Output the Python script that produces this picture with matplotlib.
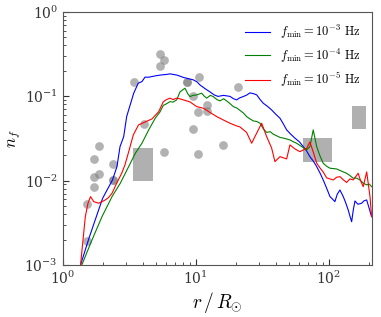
import numpy as np
import matplotlib
matplotlib.use("Agg")
import matplotlib.pyplot as plt
from matplotlib.patches import Rectangle

plt.rcParams['mathtext.fontset'] = 'cm'
plt.rcParams['font.family'] = 'serif'
plt.rcParams['font.serif'] = ['DejaVu Serif']

# ---- data (log10 values) ----
blue_log_r = [0.134, 0.2, 0.3, 0.3744, 0.408, 0.431, 0.4586, 0.481, 0.496, 0.519, 0.534, 0.568,
              0.596, 0.619, 0.645, 0.671, 0.71, 0.7466, 0.78, 0.807, 0.86, 0.907, 0.94, 0.982,
              1.01, 1.032, 1.07, 1.1075, 1.14, 1.168, 1.21, 1.258, 1.285, 1.308, 1.33, 1.358,
              1.385, 1.408, 1.435, 1.459, 1.485, 1.508, 1.54, 1.571, 1.6, 1.634, 1.66, 1.684,
              1.715, 1.747, 1.78, 1.809, 1.835, 1.859, 1.885, 1.910, 1.935, 1.959, 1.985, 2.010,
              2.03, 2.047, 2.065, 2.085, 2.110, 2.13, 2.147, 2.16, 2.173, 2.185, 2.198, 2.22,
              2.248, 2.265, 2.286, 2.305, 2.323]
blue_log_n = [-3.0, -2.67, -2.21, -1.992, -1.834, -1.597, -1.479, -1.2415, -1.162, -1.043, -0.964, -0.8455,
              -0.8265, -0.774, -0.775, -0.767, -0.755, -0.747, -0.742, -0.735, -0.75, -0.777, -0.79, -0.806,
              -0.83, -0.866, -0.91, -0.9487, -0.985, -1.002, -0.99, -1.002, -1.03, -1.0435, -1.02, -1.004,
              -0.985, -0.9605, -0.97, -0.984, -1.04, -1.0826, -1.12, -1.162, -1.21, -1.2605, -1.33, -1.399,
              -1.45, -1.4977, -1.54, -1.597, -1.65, -1.716, -1.77, -1.834, -1.91, -1.992, -2.09, -2.190,
              -2.22, -2.249, -2.16, -2.111, -2.190, -2.27, -2.348, -2.42, -2.487, -2.35, -2.241, -2.28,
              -2.268, -2.24, -2.229, -2.33, -2.427]

green_log_r = [0.145, 0.220, 0.2955, 0.3707, 0.433, 0.496, 0.546, 0.596, 0.6466, 0.696, 0.7316, 0.756,
               0.78, 0.807, 0.83, 0.857, 0.882, 0.9195, 0.94, 0.957, 0.98, 1.0075, 1.045, 1.065, 1.083,
               1.11, 1.132, 1.16, 1.183, 1.21, 1.233, 1.26, 1.283, 1.31, 1.333, 1.36, 1.383, 1.41, 1.433,
               1.46, 1.4835, 1.51, 1.534, 1.56, 1.583, 1.61, 1.634, 1.67, 1.709, 1.735, 1.759, 1.8, 1.835,
               1.859, 1.884, 1.910, 1.935, 1.959, 1.985, 2.010, 2.060, 2.10, 2.135, 2.16, 2.185, 2.21,
               2.235, 2.26, 2.286, 2.305, 2.323]
green_log_n = [-2.994, -2.704, -2.427, -2.190, -2.031, -1.834, -1.676, -1.557, -1.399, -1.2605, -1.186, -1.109,
               -1.09, -1.064, -1.07, -1.0435, -0.9487, -0.905, -0.97, -1.004, -0.99, -0.984, -0.964, -1.0, -1.023,
               -0.99, -1.004, -1.04, -1.0554, -1.03, -1.0554, -1.09, -1.123, -1.14, -1.168, -1.2, -1.2415, -1.27, -1.2925,
               -1.3, -1.320, -1.39, -1.429, -1.42, -1.449, -1.47, -1.488, -1.5, -1.518, -1.54, -1.557, -1.6, -1.636,
               -1.597, -1.399, -1.597, -1.708, -1.794, -1.83, -1.853, -1.862, -1.89, -1.913, -1.94, -1.972, -1.97,
               -1.992, -2.03, -2.051, -2.04, -2.072]

red_log_r = [0.134, 0.170, 0.190, 0.209, 0.233, 0.2707, 0.295, 0.320, 0.345, 0.3707, 0.406, 0.4436, 0.468,
             0.493, 0.531, 0.570, 0.621, 0.6714, 0.722, 0.756, 0.78, 0.807, 0.83, 0.857, 0.88, 0.907, 0.957,
             1.0075, 1.057, 1.1075, 1.158, 1.2075, 1.258, 1.308, 1.333, 1.383, 1.421, 1.4586, 1.496, 1.534,
             1.571, 1.596, 1.634, 1.66, 1.684, 1.709, 1.747, 1.784, 1.835, 1.859, 1.884, 1.910, 1.935, 1.96,
             1.985, 2.035, 2.06, 2.085, 2.11, 2.135, 2.16, 2.185, 2.222, 2.24, 2.260, 2.286, 2.311, 2.323]
red_log_n = [-3.0, -2.427, -2.268, -2.190, -2.249, -2.268, -2.25, -2.229, -2.2, -2.150, -2.031, -1.913, -1.814,
             -1.676, -1.4585, -1.340, -1.304, -1.269, -1.182, -1.067, -1.04, -1.023, -1.04, -1.023, -1.03, -1.0435, -1.067,
             -1.123, -1.142, -1.192, -1.2415, -1.281, -1.320, -1.352, -1.364, -1.429, -1.557, -1.438, -1.320, -1.479,
             -1.613, -1.775, -1.716, -1.73, -1.743, -1.577, -1.625, -1.657, -1.616, -1.5415, -1.660, -1.794, -1.850, -1.9,
             -1.968, -1.992, -1.96, -1.953, -1.99, -2.022, -1.98, -1.992, -1.913, -2.0, -2.072, -1.897, -2.190, -2.427]

obs_r = [5.39, 5.81, 5.36, 3.45, 8.56, 8.56, 10.53, 9.54, 12.16, 10.4, 12.16, 4.06, 9.49, 5.81, 10.46,
         1.884, 1.729, 2.377, 1.884, 1.729, 1.729, 2.377, 2.377, 1.531, 1.531, 20.7, 15.96]
obs_n = [0.315, 0.270, 0.231, 0.1467, 0.149, 0.149, 0.1695, 0.1017, 0.0796, 0.0652, 0.0676, 0.047, 0.0406,
         0.0217, 0.0205, 0.026, 0.0179, 0.0156, 0.0120, 0.0111, 0.0084, 0.0101, 0.0101, 0.00533, 0.00194,
         0.128, 0.0267]

box_r0 = [3.36, 64.0, 151.0]
box_r1 = [4.75, 106.0, 190.0]
box_n0 = [0.0099, 0.0165, 0.041]
box_n1 = [0.0246, 0.0318, 0.0774]

labels = [r'$f_{\rm min} = 10^{-3}\ \mathrm{Hz}$',
          r'$f_{\rm min} = 10^{-4}\ \mathrm{Hz}$',
          r'$f_{\rm min} = 10^{-5}\ \mathrm{Hz}$']

# ---- figure ----
fig = plt.figure(figsize=(3.81, 3.17), dpi=100)
ax = fig.add_axes([0.1646, 0.164, 0.8126, 0.7987])

for r0, r1, n0, n1 in zip(box_r0, box_r1, box_n0, box_n1):
    ax.add_patch(Rectangle((r0, n0), r1 - r0, n1 - n0, facecolor='#b0b0b0',
                           edgecolor='none', zorder=1))

ax.plot(obs_r, obs_n, 'o', color='gray', alpha=0.6, markersize=6.3,
        markeredgewidth=0, zorder=2)

ax.plot(10 ** np.array(blue_log_r), 10 ** np.array(blue_log_n), color='blue', lw=0.8,
        label=labels[0], zorder=3)
ax.plot(10 ** np.array(green_log_r), 10 ** np.array(green_log_n), color='green', lw=0.8,
        label=labels[1], zorder=3)
ax.plot(10 ** np.array(red_log_r), 10 ** np.array(red_log_n), color='red', lw=0.8,
        label=labels[2], zorder=3)

ax.set_xscale('log')
ax.set_yscale('log')
ax.set_xlim(1, 213)
ax.set_ylim(1e-3, 1)

ax.tick_params(which='both', direction='in', labelsize=10, colors='#333333')
ax.tick_params(which='major', length=4)
ax.tick_params(which='minor', length=2)
for s in ax.spines.values():
    s.set_color('#555555')

ax.set_xlabel(r'$r\,/\,R_{\odot}$', fontsize=14, labelpad=2)
ax.set_ylabel(r'$n_f$', fontsize=12, labelpad=1)

ax.legend(loc='upper right', frameon=False, fontsize=9, handlelength=2.0,
          handletextpad=0.8, labelspacing=0.45)

fig.savefig('out.png', dpi=100)
